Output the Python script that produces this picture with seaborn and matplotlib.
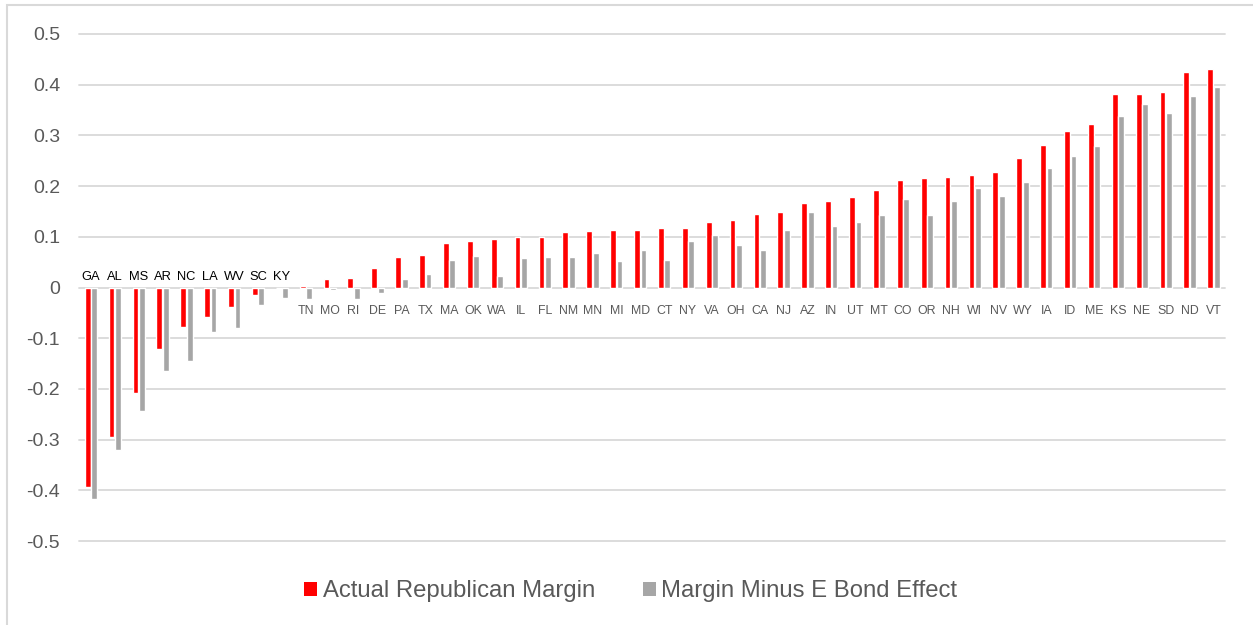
import matplotlib
matplotlib.use("Agg")
import matplotlib.pyplot as plt
from matplotlib.patches import Patch, Rectangle
import pandas as pd
import seaborn as sns

# Republican margin by state, sorted from most Democratic to most Republican
states = ["GA", "AL", "MS", "AR", "NC", "LA", "WV", "SC", "KY", "TN",
          "MO", "RI", "DE", "PA", "TX", "MA", "OK", "WA", "IL", "FL",
          "NM", "MN", "MI", "MD", "CT", "NY", "VA", "OH", "CA", "NJ",
          "AZ", "IN", "UT", "MT", "CO", "OR", "NH", "WI", "NV", "WY",
          "IA", "ID", "ME", "KS", "NE", "SD", "ND", "VT"]

actual_margin = [-0.393, -0.295, -0.209, -0.121, -0.078, -0.058, -0.038, -0.014, -0.001, 0.003,
                 0.016, 0.019, 0.039, 0.060, 0.064, 0.087, 0.091, 0.096, 0.099, 0.099,
                 0.110, 0.112, 0.114, 0.114, 0.118, 0.118, 0.130, 0.134, 0.145, 0.148,
                 0.167, 0.170, 0.178, 0.193, 0.212, 0.215, 0.218, 0.222, 0.228, 0.256,
                 0.281, 0.309, 0.322, 0.382, 0.382, 0.385, 0.426, 0.431]

minus_ebond = [-0.417, -0.321, -0.244, -0.165, -0.144, -0.087, -0.079, -0.035, -0.021, -0.022,
               -0.004, -0.023, -0.011, 0.017, 0.026, 0.055, 0.063, 0.022, 0.059, 0.060,
               0.061, 0.069, 0.052, 0.073, 0.054, 0.091, 0.104, 0.084, 0.073, 0.114,
               0.148, 0.121, 0.129, 0.143, 0.175, 0.143, 0.170, 0.196, 0.181, 0.209,
               0.236, 0.259, 0.280, 0.338, 0.361, 0.345, 0.377, 0.395]

series_names = ["Actual Republican Margin", "Margin Minus E Bond Effect"]
series_colors = ["#ff0000", "#a6a6a6"]
y_ticks = [-0.5, -0.4, -0.3, -0.2, -0.1, 0, 0.1, 0.2, 0.3, 0.4, 0.5]
y_tick_labels = ["-0.5", "-0.4", "-0.3", "-0.2", "-0.1", "0", "0.1", "0.2", "0.3", "0.4", "0.5"]

sns.set_theme(style="white")
plt.rcParams["font.family"] = ["Liberation Sans", "DejaVu Sans"]

df = pd.DataFrame({
    "state": states * 2,
    "margin": actual_margin + minus_ebond,
    "series": [series_names[0]] * len(states) + [series_names[1]] * len(states),
})

fig = plt.figure(figsize=(12.53, 6.25), dpi=100)
ax = fig.add_axes([0.063, 0.1344, 0.915, 0.8112])

sns.barplot(data=df, x="state", y="margin", hue="series", order=states,
            hue_order=series_names, palette=series_colors, saturation=1,
            width=0.54, gap=0.1, errorbar=None, legend=False, ax=ax)

ax.set_xlim(-0.5, len(states) - 0.5)
ax.set_ylim(-0.5, 0.5)
ax.set_yticks(y_ticks)
ax.set_yticklabels(y_tick_labels)
ax.set_xticks([])
ax.set_xlabel("")
ax.set_ylabel("")
ax.tick_params(axis="y", length=0, pad=13.5, labelsize=14, labelcolor="#595959")
for spine in ax.spines.values():
    spine.set_visible(False)
ax.yaxis.grid(True, color="#d9d9d9", linewidth=1.3)
ax.set_axisbelow(True)
for gl in ax.get_ygridlines():
    gl.set_clip_on(False)

# State names sit above the axis for Democratic-leaning states, below otherwise
for i, (name, val) in enumerate(zip(states, actual_margin)):
    if val < 0:
        ax.text(i, 0.021, name, ha="center", va="center", fontsize=9.3, color="#000000")
    else:
        ax.text(i, -0.047, name, ha="center", va="center", fontsize=8.9, color="#595959")

handles = [Patch(facecolor=c, edgecolor="none", label=n) for c, n in zip(series_colors, series_names)]
fig.legend(handles=handles, loc="center", bbox_to_anchor=(0.5034, 0.0536), ncol=2,
           frameon=False, fontsize=17.2, handlelength=0.55, handleheight=0.55,
           handletextpad=0.22, columnspacing=2.0, labelcolor="#595959")

# Chart frame
fig.patches.append(Rectangle((7 / 1253, -0.02), 1.1, 0.992 + 0.02, transform=fig.transFigure,
                             fill=False, edgecolor="#d9d9d9", linewidth=1.5))

fig.savefig("out.png", dpi=100)
